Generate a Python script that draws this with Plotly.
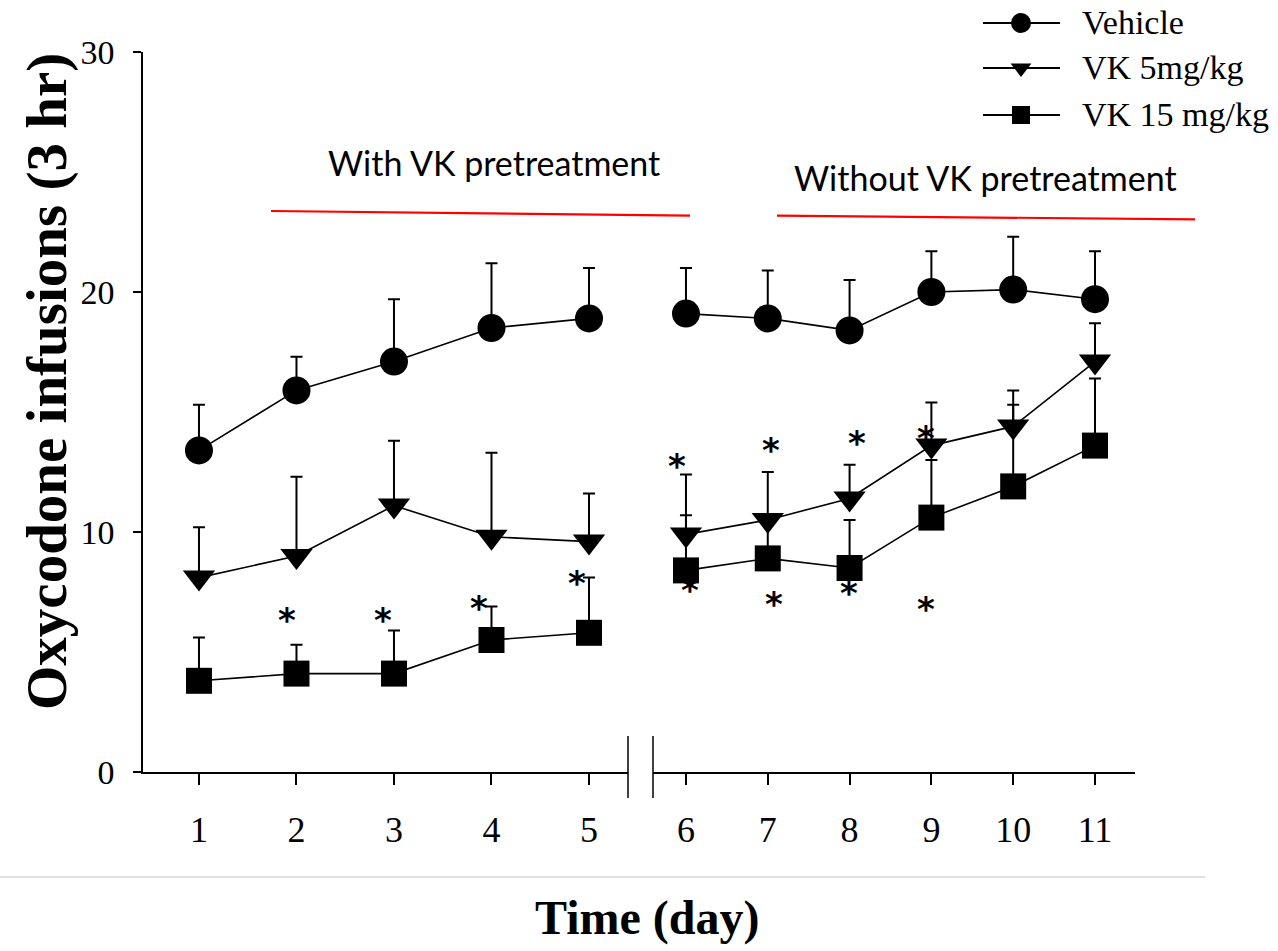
import plotly.graph_objects as go

# ---------------- data ----------------
days = [1, 2, 3, 4, 5, 6, 7, 8, 9, 10, 11]
tick_labels = ["1", "2", "3", "4", "5", "6", "7", "8", "9", "10", "11"]

vehicle = [13.4, 15.9, 17.1, 18.5, 18.9, 19.1, 18.9, 18.4, 20.0, 20.1, 19.7]
vehicle_sem = [1.9, 1.4, 2.6, 2.7, 2.1, 1.9, 2.0, 2.1, 1.7, 2.2, 2.0]
vk5 = [8.1, 9.0, 11.1, 9.8, 9.6, 9.9, 10.5, 11.4, 13.6, 14.4, 17.1]
vk5_sem = [2.1, 3.3, 2.7, 3.5, 2.0, 2.5, 2.0, 1.4, 1.8, 1.5, 1.6]
vk15 = [3.8, 4.1, 4.1, 5.5, 5.8, 8.4, 8.9, 8.5, 10.6, 11.9, 13.6]
vk15_sem = [1.8, 1.2, 1.8, 1.4, 2.3, 2.3, 1.4, 2.0, 2.4, 3.4, 2.8]

series_names = ["Vehicle", "VK 5mg/kg", "VK 15 mg/kg"]

# significance asterisks (day position, y value)
star_left_x = [1.906, 2.89, 3.875, 4.874]
star_left_y = [6.33, 6.33, 6.83, 7.86]
star_right_x = [5.894, 6.049, 7.035, 7.079, 8.094, 7.996, 8.94, 8.931]
star_right_y = [12.75, 7.58, 13.42, 7.0, 13.7, 7.45, 13.92, 6.78]

# ---------------- layout geometry ----------------
W, H = 1278, 951
L, R, T, B = 143, 143, 0, 179
PW, PH = W - L - R, H - T - B


def px(x):
    return (x - L) / PW


def py(y):
    return (H - B - y) / PH


SERIF = "Liberation Serif, Times New Roman, serif"
SANS = "Lato, Carlito, Calibri, sans-serif"
STAR_FONT = "DejaVu Sans, sans-serif"

fig = go.Figure()

styles = [
    dict(symbol="circle", size=28),
    dict(symbol="triangle-down", size=28),
    dict(symbol="square", size=26),
]
vals = [vehicle, vk5, vk15]
sems = [vehicle_sem, vk5_sem, vk15_sem]

split = 5
for name, v, s, st in zip(series_names, vals, sems, styles):
    for xa, sl in (("x", slice(0, split)), ("x2", slice(split, None))):
        fig.add_trace(go.Scatter(
            x=days[sl], y=v[sl], xaxis=xa, yaxis="y",
            mode="lines+markers", name=name, showlegend=False,
            line=dict(color="black", width=1.6),
            marker=dict(symbol=st["symbol"], size=st["size"], color="black",
                        line=dict(width=0)),
            error_y=dict(type="data", symmetric=False, array=s[sl],
                         arrayminus=[0] * len(s[sl]), color="black",
                         thickness=2, width=6),
        ))

# legend glyphs on a pixel-coordinate overlay axis
leg_rows = [23, 68, 115]
leg_sizes = [20, 18, 18]
for name, st, ry, sz in zip(series_names, styles, leg_rows, leg_sizes):
    fig.add_trace(go.Scatter(
        x=[1021], y=[ry], xaxis="x3", yaxis="y3", mode="markers",
        showlegend=False, hoverinfo="skip",
        marker=dict(symbol=st["symbol"], size=sz, color="black"),
    ))

axis_common = dict(showgrid=False, zeroline=False, showline=True,
                   linecolor="black", linewidth=2, ticks="outside",
                   ticklen=11, tickwidth=1.5, tickcolor="black",
                   tickfont=dict(family=SERIF, size=36, color="black"),
                   ticklabelstandoff=14)

fig.update_layout(
    width=W, height=H,
    margin=dict(l=L, r=R, t=T, b=B, autoexpand=False),
    paper_bgcolor="white", plot_bgcolor="rgba(0,0,0,0)",
    showlegend=False,
    xaxis=dict(domain=[0, px(628)], range=[0.426, 5.4], anchor="y",
               tickmode="array", tickvals=days[:split],
               ticktext=tick_labels[:split], **axis_common),
    xaxis2=dict(domain=[px(653), 1], range=[5.597, 11.489], anchor="y",
                tickmode="array", tickvals=days[split:],
                ticktext=tick_labels[split:], **axis_common),
    yaxis=dict(domain=[0, py(52)], range=[0, 30], anchor="x",
               tickmode="array", tickvals=[0, 10, 20, 30],
               showgrid=False, zeroline=False, showline=True,
               linecolor="black", linewidth=1.5, ticks="outside",
               ticklen=8, tickwidth=1.5, tickcolor="black",
               tickfont=dict(family=SERIF, size=34, color="black"),
               ticklabelstandoff=12),
    xaxis3=dict(domain=[0, 1], range=[L, W - R], visible=False,
                anchor="y3", fixedrange=True),
    yaxis3=dict(domain=[0, 1], range=[H - B, T], visible=False,
                anchor="x3", fixedrange=True),
)

shapes = []
# legend lines
for ry in leg_rows:
    shapes.append(dict(type="line", xref="paper", yref="paper",
                       x0=px(983), x1=px(1060), y0=py(ry), y1=py(ry),
                       line=dict(color="black", width=2)))
# red bracket lines
shapes.append(dict(type="line", xref="paper", yref="paper",
                   x0=px(271), y0=py(211), x1=px(690), y1=py(215.7),
                   line=dict(color="red", width=2.2)))
shapes.append(dict(type="line", xref="paper", yref="paper",
                   x0=px(777), y0=py(215.7), x1=px(1195), y1=py(219.3),
                   line=dict(color="red", width=2.2)))
# axis break marks
for bx in (628, 653):
    shapes.append(dict(type="line", xref="paper", yref="paper",
                       x0=px(bx), x1=px(bx), y0=py(736), y1=py(798),
                       line=dict(color="black", width=1.5)))
# grey separator line
shapes.append(dict(type="line", xref="paper", yref="paper",
                   x0=px(0), x1=px(1205), y0=py(877), y1=py(877),
                   line=dict(color="#c3c3c3", width=1.2)))
fig.update_layout(shapes=shapes)

ann = []
for name, ry in zip(series_names, leg_rows):
    ann.append(dict(text=name, xref="paper", yref="paper", x=px(1080),
                    y=py(ry), xanchor="left", yanchor="middle",
                    showarrow=False,
                    font=dict(family=SERIF, size=34, color="black")))
ann.append(dict(text="With VK pretreatment", xref="paper", yref="paper",
                x=px(493.5), y=py(163), xanchor="center", yanchor="middle",
                showarrow=False, font=dict(family=SANS, size=34, color="black")))
ann.append(dict(text="Without VK pretreatment", xref="paper", yref="paper",
                x=px(985.5), y=py(177), xanchor="center", yanchor="middle",
                showarrow=False, font=dict(family=SANS, size=34, color="black")))
ann.append(dict(text="<b>Oxycodone infusions (3 hr)</b>", xref="paper",
                yref="paper", x=px(47), y=py(382), textangle=-90,
                xanchor="center", yanchor="middle", showarrow=False,
                font=dict(family=SERIF, size=57, color="black")))
ann.append(dict(text="<b>Time (day)</b>", xref="paper", yref="paper",
                x=px(647), y=py(918), xanchor="center", yanchor="middle",
                showarrow=False, font=dict(family=SERIF, size=48, color="black")))
for sx, sy in zip(star_left_x, star_left_y):
    ann.append(dict(text="<b>*</b>", xref="x", yref="y", x=sx, y=sy,
                    xanchor="center", yanchor="middle", showarrow=False,
                    yshift=0, font=dict(family=STAR_FONT, size=34,
                                        color="black")))
for sx, sy in zip(star_right_x, star_right_y):
    ann.append(dict(text="<b>*</b>", xref="x2", yref="y", x=sx, y=sy,
                    xanchor="center", yanchor="middle", showarrow=False,
                    yshift=0, font=dict(family=STAR_FONT, size=34,
                                        color="black")))
fig.update_layout(annotations=ann)

fig.write_html("out.html",
               config={"displayModeBar": False},
               post_script="document.body.style.margin='0';")
